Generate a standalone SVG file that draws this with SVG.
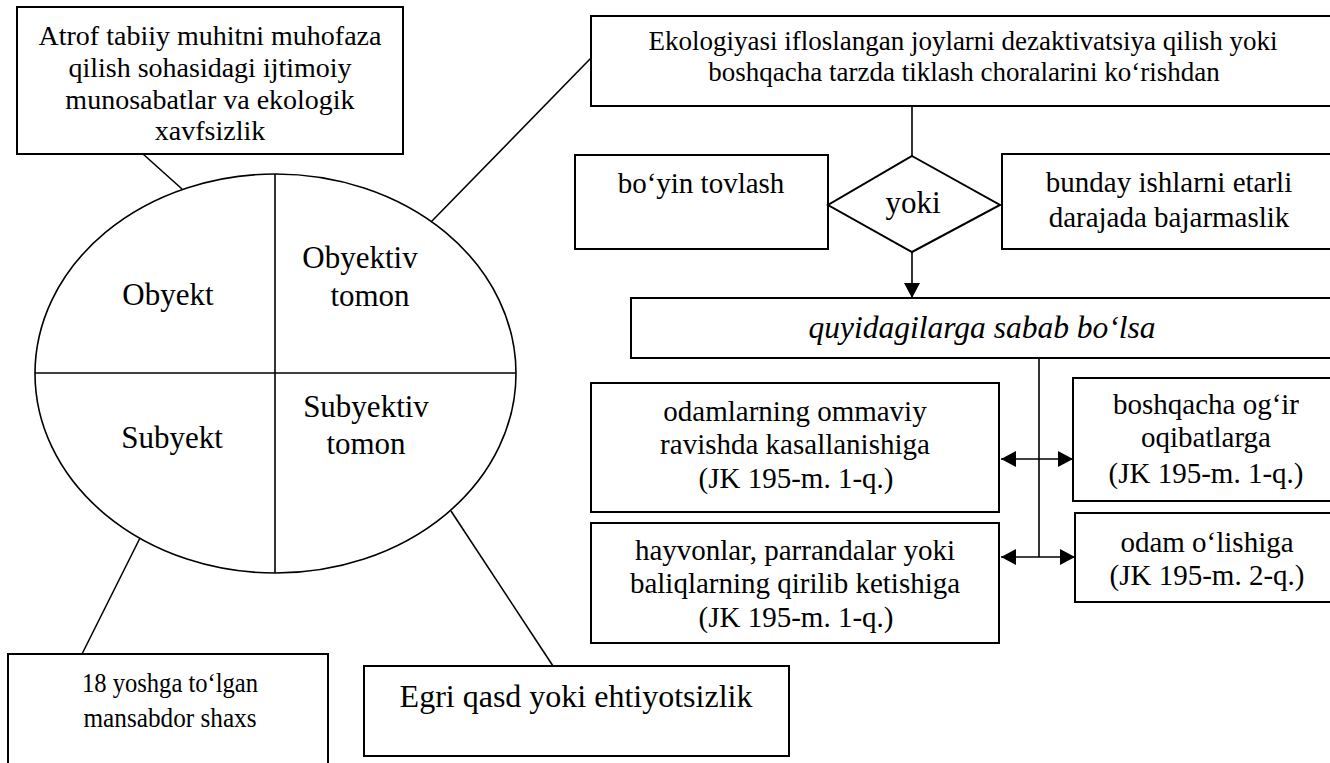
<svg xmlns="http://www.w3.org/2000/svg" width="1330" height="763" viewBox="0 0 1330 763">
<style>
.box{fill:#fff;stroke:#000;stroke-width:2}
.ln{fill:none;stroke:#000;stroke-width:1.6}
.t{font-family:"Liberation Serif","Times New Roman",serif;fill:#000;text-anchor:middle}
</style>
<defs>
<marker id="ah" markerUnits="userSpaceOnUse" markerWidth="16" markerHeight="16" refX="15" refY="8" orient="auto-start-reverse">
<path d="M0,0 L15,8 L0,16 z" fill="#000"/>
</marker>
</defs>
<rect width="1330" height="763" fill="#fff"/>
<g id="connectors">
<line class="ln" x1="143" y1="154" x2="182" y2="189"/>
<line class="ln" x1="431" y1="222" x2="591" y2="58"/>
<line class="ln" x1="140" y1="538" x2="82" y2="654"/>
<line class="ln" x1="451" y1="511" x2="553" y2="666"/>
<line class="ln" x1="912" y1="106" x2="912" y2="156"/>
<line class="ln" x1="912" y1="252" x2="912" y2="298" stroke-width="2" marker-end="url(#ah)"/>
<line class="ln" x1="1039" y1="359" x2="1039" y2="557" stroke-width="2"/>
<line class="ln" x1="1001" y1="459" x2="1073" y2="459" stroke-width="2.5" marker-start="url(#ah)" marker-end="url(#ah)"/>
<line class="ln" x1="1001" y1="557" x2="1075" y2="557" stroke-width="2.5" marker-start="url(#ah)" marker-end="url(#ah)"/>
</g>
<g id="ellipse">
<ellipse class="ln" cx="275.5" cy="373.5" rx="240.5" ry="199.5"/>
<line class="ln" x1="35" y1="373" x2="516" y2="373"/>
<line class="ln" x1="275" y1="174" x2="275" y2="573"/>
<text class="t" font-size="31" x="168" y="305">Obyekt</text>
<text class="t" font-size="31" x="360" y="268">Obyektiv</text>
<text class="t" font-size="31" x="370" y="306">tomon</text>
<text class="t" font-size="31" x="172" y="448">Subyekt</text>
<text class="t" font-size="31" x="366" y="417">Subyektiv</text>
<text class="t" font-size="31" x="366" y="454">tomon</text>
</g>
<g id="obyekt-box">
<rect class="box" x="17" y="7" width="386" height="147"/>
<text class="t" font-size="28" x="210" y="45">Atrof tabiiy muhitni muhofaza</text>
<text class="t" font-size="28" x="210" y="77">qilish sohasidagi ijtimoiy</text>
<text class="t" font-size="28" x="210" y="109">munosabatlar va ekologik</text>
<text class="t" font-size="28" x="210" y="140">xavfsizlik</text>
</g>
<g id="obyektiv-box">
<rect class="box" x="591" y="16" width="760" height="90"/>
<text class="t" font-size="27" x="963" y="50">Ekologiyasi ifloslangan joylarni dezaktivatsiya qilish yoki</text>
<text class="t" font-size="27" x="964" y="81">boshqacha tarzda tiklash choralarini ko‘rishdan</text>
</g>
<g id="boyin-box">
<rect class="box" x="575" y="155" width="253" height="94"/>
<text class="t" font-size="29" x="701" y="193">bo‘yin tovlash</text>
</g>
<g id="yoki-diamond">
<polygon class="box" points="912,156 1000,205 912,252 828,205"/>
<text class="t" font-size="31" x="913" y="213">yoki</text>
</g>
<g id="bunday-box">
<rect class="box" x="1002" y="154" width="350" height="95"/>
<text class="t" font-size="29" x="1169" y="192">bunday ishlarni etarli</text>
<text class="t" font-size="29" x="1169" y="227">darajada bajarmaslik</text>
</g>
<g id="sabab-box">
<rect class="box" x="631" y="298" width="720" height="60"/>
<text class="t" font-size="31.5" font-style="italic" x="982" y="338">quyidagilarga sabab bo‘lsa</text>
</g>
<g id="kasal-box">
<rect class="box" x="591" y="383" width="408" height="129"/>
<text class="t" font-size="29" x="795" y="421">odamlarning ommaviy</text>
<text class="t" font-size="29" x="795" y="454">ravishda kasallanishiga</text>
<text class="t" font-size="29" x="796" y="488">(JK 195-m. 1-q.)</text>
</g>
<g id="hayvon-box">
<rect class="box" x="591" y="523" width="408" height="120"/>
<text class="t" font-size="29" x="795" y="560">hayvonlar, parrandalar yoki</text>
<text class="t" font-size="29" x="795" y="593">baliqlarning qirilib ketishiga</text>
<text class="t" font-size="29" x="796" y="627">(JK 195-m. 1-q.)</text>
</g>
<g id="ogir-box">
<rect class="box" x="1073" y="378" width="280" height="123"/>
<text class="t" font-size="29" x="1206" y="414">boshqacha og‘ir</text>
<text class="t" font-size="29" x="1206" y="447">oqibatlarga</text>
<text class="t" font-size="29" x="1206" y="483">(JK 195-m. 1-q.)</text>
</g>
<g id="olish-box">
<rect class="box" x="1075" y="513" width="280" height="89"/>
<text class="t" font-size="29" x="1207" y="552">odam o‘lishiga</text>
<text class="t" font-size="29" x="1207" y="585">(JK 195-m. 2-q.)</text>
</g>
<g id="subyekt-box">
<rect class="box" x="8" y="654" width="320" height="130"/>
<text class="t" font-size="28" x="170" y="692" textLength="176" lengthAdjust="spacingAndGlyphs">18 yoshga to‘lgan</text>
<text class="t" font-size="28" x="170" y="727" textLength="173" lengthAdjust="spacingAndGlyphs">mansabdor shaxs</text>
</g>
<g id="subyektiv-box">
<rect class="box" x="364" y="666" width="425" height="90"/>
<text class="t" font-size="32" x="576" y="707">Egri qasd yoki ehtiyotsizlik</text>
</g>
</svg>
